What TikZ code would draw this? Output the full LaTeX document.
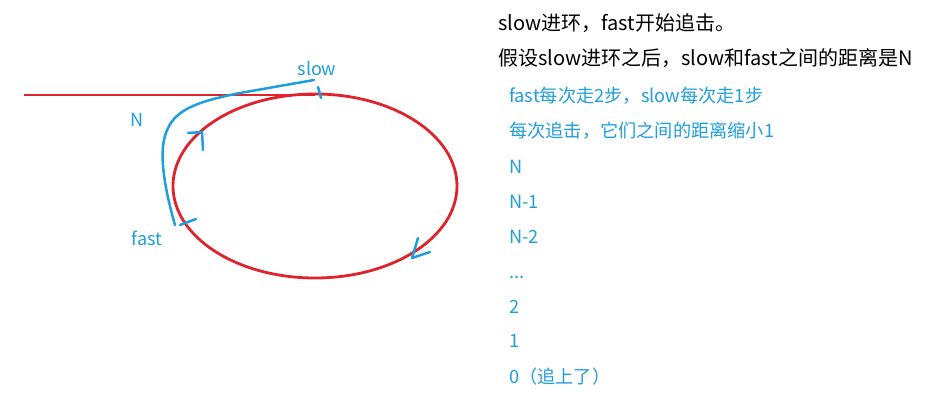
\documentclass[tikz,border=0pt]{standalone}
\usepackage{fontspec}
\setmainfont{Noto Sans CJK SC}
\definecolor{ringred}{RGB}{222,35,45}
\definecolor{pathblue}{RGB}{30,158,218}
\tikzset{
  redline/.style={draw=ringred, line width=2.8pt},
  blueline/.style={draw=pathblue, line width=2.5pt, line cap=round, line join=round},
  bluelabel/.style={text=pathblue, font=\fontsize{18}{20}\selectfont, inner sep=0pt},
  blacktext/.style={text=black, font=\fontsize{20}{22}\selectfont, inner sep=0pt, anchor=base west},
  bluetext/.style={text=pathblue, font=\fontsize{18.2}{20}\selectfont, inner sep=0pt, anchor=base west}
}
\begin{document}
\begin{tikzpicture}[x=1pt,y=-1pt]
\useasboundingbox (0,0) rectangle (930,402);
% ring and tail
\coordinate (entry) at (315,95);
\coordinate (tailstart) at (24,95);
\draw[redline] (315,186) ellipse [x radius=142, y radius=92];
\draw[redline] (tailstart) -- (entry);
% blue path N
\coordinate (slowpt) at (314,80);
\coordinate (fastpt) at (175,225);
\draw[blueline] (slowpt) -- (240,93) .. controls (190,103) and (170,112) .. (164,140)
  .. controls (160,160) and (165,190) .. (fastpt);
% ticks
\draw[blueline] (318,87) -- (321,98);
\draw[blueline] (180,225) -- (196,219);
% arrows on ring
\draw[blueline] (188,133) -- (202,132) -- (203,150);
\draw[blueline] (418,238) -- (412,258) -- (430,252);
% labels
\node[bluelabel] (slowlbl) at (317,68) {slow};
\node[bluelabel] (nlbl) at (137,120) {N};
\node[bluelabel] (fastlbl) at (147,238) {fast};
% text
\node[blacktext] (t1) at (498,30) {slow进环，fast开始追击。};
\node[blacktext] (t2) at (498,65) {假设slow进环之后，slow和fast之间的距离是N};
\node[bluetext] (t3) at (509,102) {fast每次走2步，slow每次走1步};
\node[bluetext] (t4) at (509,137) {每次追击，它们之间的距离缩小1};
\node[bluetext] (t5) at (509,173) {N};
\node[bluetext] (t6) at (509,208) {N-1};
\node[bluetext] (t7) at (509,243) {N-2};
\node[bluetext] (t8) at (509,278) {...};
\node[bluetext] (t9) at (509,313) {2};
\node[bluetext] (t10) at (509,347) {1};
\node[bluetext] (t11) at (509,383) {0（追上了）};
\end{tikzpicture}
\end{document}
